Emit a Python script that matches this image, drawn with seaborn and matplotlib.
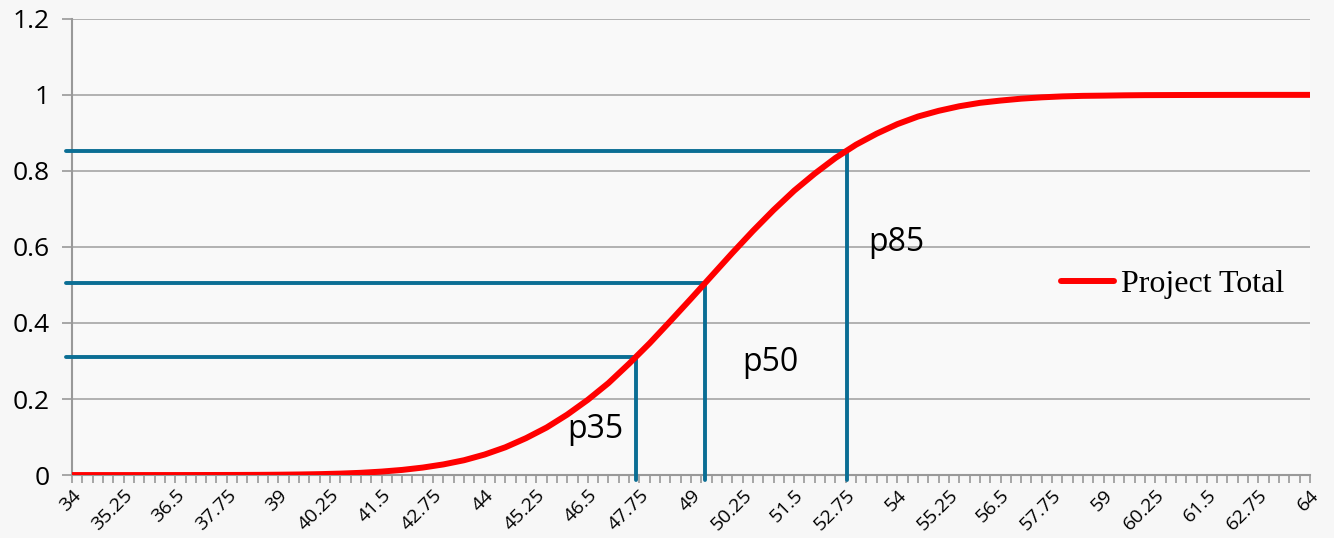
import numpy as np
import pandas as pd
import matplotlib.pyplot as plt
import seaborn as sns

# cumulative probability, every 0.5
x_vals = [34, 34.5, 35, 35.5, 36, 36.5, 37, 37.5, 38, 38.5, 39, 39.5, 40, 40.5,
          41, 41.5, 42, 42.5, 43, 43.5, 44, 44.5, 45, 45.5, 46, 46.5, 47, 47.5,
          48, 48.5, 49, 49.5, 50, 50.5, 51, 51.5, 52, 52.5, 53, 53.5, 54, 54.5,
          55, 55.5, 56, 56.5, 57, 57.5, 58, 58.5, 59, 59.5, 60, 61, 62, 63, 64]
prob = [0.0, 0.0, 0.0, 0.0, 0.00003, 0.00005, 0.0001, 0.0002, 0.0003, 0.0005,
        0.0009, 0.0015, 0.0024, 0.0038, 0.0059, 0.0091, 0.0135, 0.0197, 0.028,
        0.039, 0.054, 0.073, 0.097, 0.125, 0.159, 0.198, 0.242, 0.293, 0.347,
        0.405, 0.464, 0.524, 0.584, 0.642, 0.697, 0.748, 0.793, 0.834, 0.869,
        0.898, 0.923, 0.943, 0.958, 0.970, 0.979, 0.985, 0.990, 0.9935, 0.996,
        0.9974, 0.998, 0.9988, 0.9993, 0.9997, 0.9999, 1.0, 1.0]

# percentile markers
p_names = ["p35", "p50", "p85"]
p_x = [47.67, 49.35, 52.78]
p_y = [0.31, 0.505, 0.853]
label_pos = [(46.0, 0.12), (50.25, 0.297), (53.3, 0.612)]

x_ticks = np.arange(34, 64.01, 1.25)

df = pd.DataFrame({"x": x_vals, "p": prob})

sns.set_style("white")
plt.rcParams["font.family"] = ["Open Sans", "DejaVu Sans"]
plt.rcParams["text.color"] = "black"
plt.rcParams["xtick.color"] = "black"
plt.rcParams["ytick.color"] = "black"

fig = plt.figure(figsize=(13.34, 5.38), dpi=100)
fig.patch.set_facecolor("#f7f7f7")
ax = fig.add_axes([0.054, 0.117, 0.928, 0.848])
ax.set_facecolor("#f9f9f9")

teal = "#0b6e94"
for px, py in zip(p_x, p_y):
    ax.plot([33.85, px], [py, py], color=teal, lw=2.8, clip_on=False, zorder=3)
    ax.plot([px, px], [-0.012, py], color=teal, lw=2.8, clip_on=False, zorder=3)

sns.lineplot(data=df, x="x", y="p", color="#ff0000", lw=4.3, ax=ax,
             label="Project Total", zorder=4, solid_capstyle="round")

for name, (lx, ly) in zip(p_names, label_pos):
    ax.text(lx, ly, name, fontsize=23, va="center", ha="left", color="black")

ax.set_xlim(34, 64)
ax.set_ylim(0, 1.2)
ax.set_yticks(np.arange(0, 1.21, 0.2))
ax.set_yticklabels(["0", "0.2", "0.4", "0.6", "0.8", "1", "1.2"], fontsize=19)
ax.set_xticks(x_ticks)
ax.set_xticklabels([f"{t:g}" for t in x_ticks], rotation=45, ha="right",
                   rotation_mode="anchor", fontsize=14)
ax.set_xticks(np.arange(34, 64.01, 0.25), minor=True)
ax.tick_params(axis="x", which="both", direction="out", length=6, color="#999999",
               width=1.2, bottom=True, pad=2)
ax.tick_params(axis="y", direction="out", length=7, color="#999999", width=1.2,
               left=True, pad=9)
ax.grid(axis="y", color="#a6a6a6", lw=1.2)
ax.set_axisbelow(True)
for s in ["top", "right"]:
    ax.spines[s].set_visible(False)
for s in ["left", "bottom"]:
    ax.spines[s].set_color("#999999")
    ax.spines[s].set_linewidth(1.5)
ax.set_xlabel("")
ax.set_ylabel("")

leg = ax.legend(loc="center left", bbox_to_anchor=(0.776, 0.417), frameon=False,
                prop={"family": "Liberation Serif", "size": 23}, handlelength=1.65,
                handletextpad=0.2)

fig.savefig("out.png", dpi=100, facecolor=fig.get_facecolor())
